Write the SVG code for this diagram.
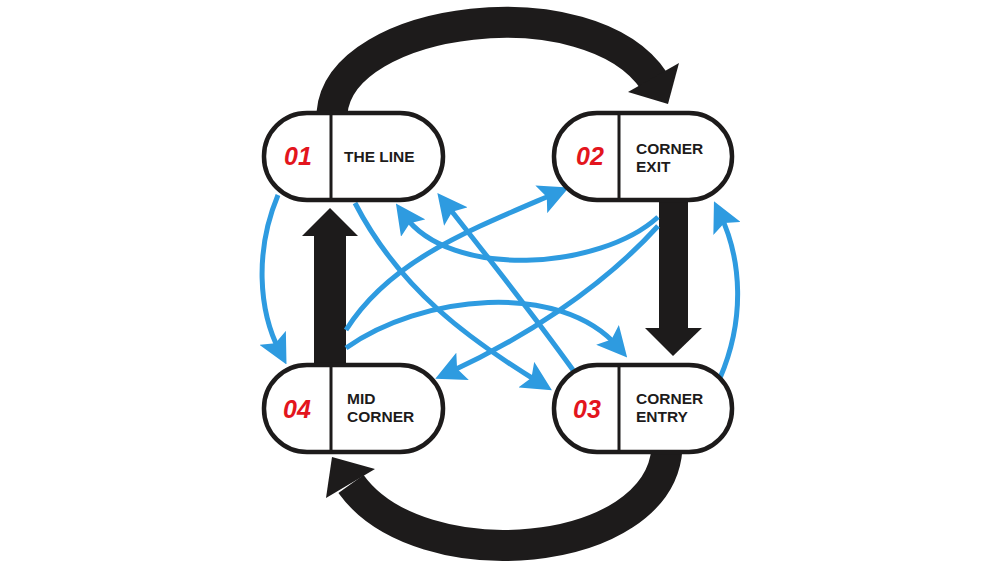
<svg xmlns="http://www.w3.org/2000/svg" width="999" height="561" viewBox="0 0 999 561">
<style>
.node{fill:#fff;stroke:#1d1b1b;stroke-width:4.5}
.div{stroke:#1d1b1b;stroke-width:3}
.num{font-family:"Liberation Sans",Arial,sans-serif;font-weight:bold;font-style:italic;font-size:25px;fill:#e3151d}
.lbl{font-family:"Liberation Sans",Arial,sans-serif;font-weight:bold;font-size:15.5px;fill:#1d1b1b}
.blue{fill:none;stroke:#2e9be0;stroke-width:5;marker-end:url(#bh)}
.big{fill:none;stroke:#1d1b1b;stroke-width:31}
.bigh{fill:#1d1b1b}
</style>
<defs>
<marker id="bh" markerWidth="6" markerHeight="6" refX="3.2" refY="3" orient="auto" markerUnits="strokeWidth" viewBox="0 0 6 6">
<path d="M0,0 L6,3 L0,6 L1.2,3 Z" fill="#2e9be0"/>
</marker>
</defs>
<g id="connectors">
<path class="big" d="M332,113 C340,15 590,-15 654,81"/>
<polygon class="bigh" points="628,92 679,63 668,104"/>
<path class="big" d="M667,448 C660,560 420,580 351,484"/>
<polygon class="bigh" points="332,457 326,498 375,469"/>
<rect class="bigh" x="659" y="200" width="29" height="130"/>
<polygon class="bigh" points="645,328 702,328 673,356"/>
<rect class="bigh" x="314" y="234" width="32" height="132"/>
<polygon class="bigh" points="302,236 358,236 330,208"/>
<path class="blue" d="M278,195 C255,250 258,310 280,352"/>
<path class="blue" d="M720,378 C745,320 742,260 720,214"/>
<path class="blue" d="M355,203 C400,290 470,340 540,383"/>
<path class="blue" d="M573,370 C530,310 490,260 446,204"/>
<path class="blue" d="M346,330 C390,260 470,230 556,193"/>
<path class="blue" d="M346,348 C420,295 560,280 618,347"/>
<path class="blue" d="M658,217 C600,270 450,280 404,215"/>
<path class="blue" d="M658,226 C600,290 520,340 448,373"/>
</g>
<g id="n1">
<rect class="node" x="264" y="113" width="179" height="87" rx="43"/>
<line class="div" x1="331" y1="113" x2="331" y2="200"/>
<text class="num" x="284" y="165">01</text>
<text class="lbl" x="344" y="162">THE LINE</text>
</g>
<g id="n2">
<rect class="node" x="554" y="113" width="178" height="87" rx="43"/>
<line class="div" x1="619" y1="113" x2="619" y2="200"/>
<text class="num" x="576" y="165">02</text>
<text class="lbl" x="636" y="154">CORNER</text>
<text class="lbl" x="636" y="172">EXIT</text>
</g>
<g id="n4">
<rect class="node" x="264" y="365" width="179" height="87" rx="43"/>
<line class="div" x1="331" y1="365" x2="331" y2="452"/>
<text class="num" x="283" y="418">04</text>
<text class="lbl" x="347" y="404">MID</text>
<text class="lbl" x="347" y="422">CORNER</text>
</g>
<g id="n3">
<rect class="node" x="554" y="365" width="178" height="87" rx="43"/>
<line class="div" x1="619" y1="365" x2="619" y2="452"/>
<text class="num" x="573" y="418">03</text>
<text class="lbl" x="636" y="404">CORNER</text>
<text class="lbl" x="636" y="422">ENTRY</text>
</g>
</svg>
